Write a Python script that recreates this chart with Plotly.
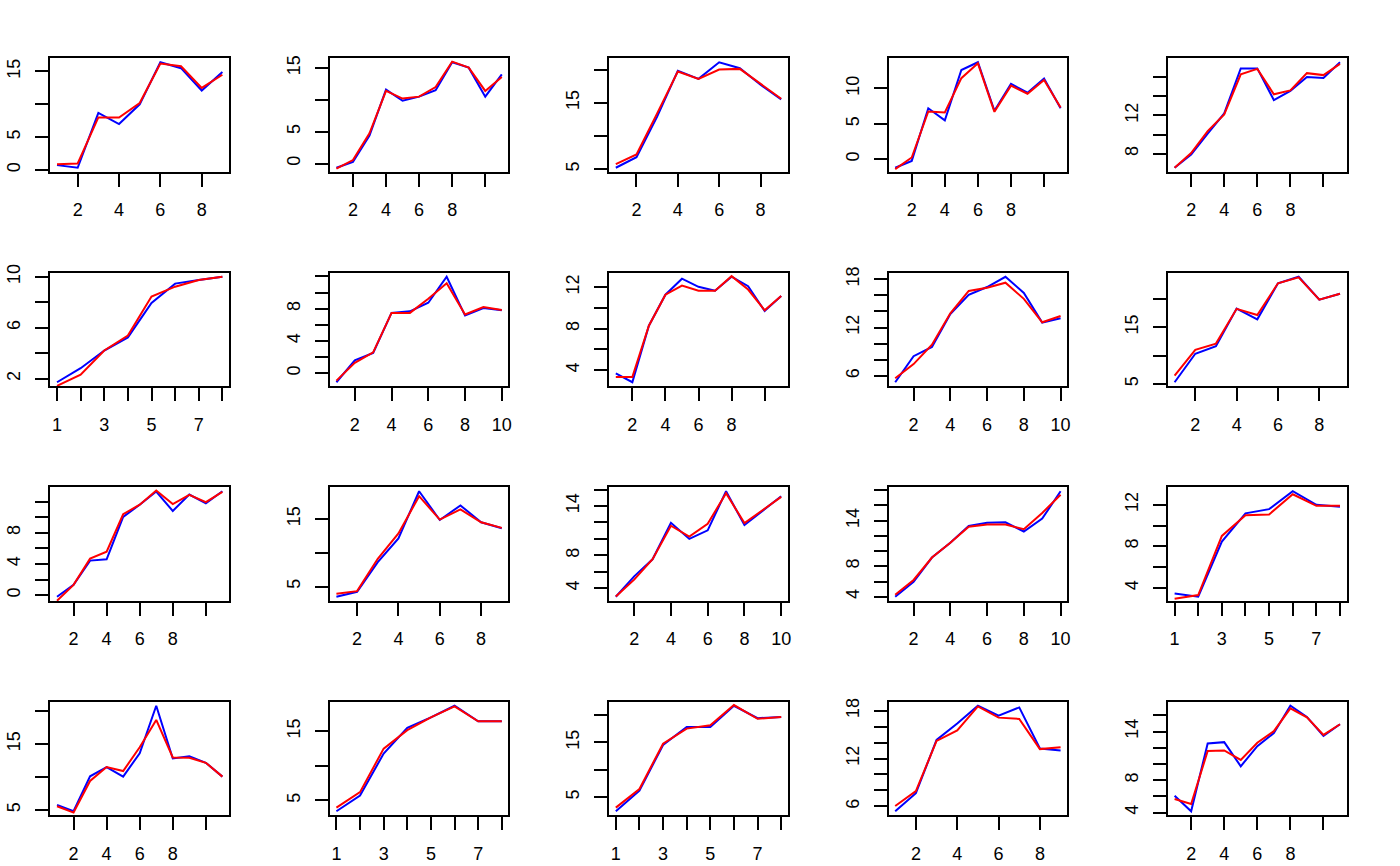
import plotly.graph_objects as go

# ---- data ----
p01_blue = [0.75, 0.35, 8.7, 7.0, 10.0, 16.4, 15.5, 12.1, 14.9]
p01_red = [0.9, 1.0, 8.0, 8.0, 10.2, 16.2, 15.8, 12.5, 14.5]
p02_blue = [-0.66, 0.25, 4.4, 11.6, 9.85, 10.5, 11.5, 15.9, 15.05, 10.5, 14.0]
p02_red = [-0.8, 0.55, 4.75, 11.4, 10.2, 10.5, 12.0, 16.0, 15.05, 11.4, 13.6]
p03_blue = [5.2, 6.8, 12.9, 19.8, 18.6, 21.1, 20.2, 17.7, 15.5]
p03_red = [5.75, 7.2, 13.4, 19.7, 18.6, 20.0, 20.1, 17.8, 15.6]
p04_blue = [-1.2, -0.23, 7.2, 5.5, 12.6, 13.7, 6.85, 10.65, 9.4, 11.4, 7.2]
p04_red = [-1.4, 0.25, 6.75, 6.6, 11.45, 13.55, 6.7, 10.4, 9.25, 11.2, 7.3]
p05_blue = [6.53, 7.9, 10.1, 12.2, 16.9, 16.9, 13.6, 14.56, 16.0, 15.9, 17.54]
p05_red = [6.53, 8.07, 10.36, 12.1, 16.27, 16.85, 14.2, 14.6, 16.4, 16.2, 17.37]

p06_blue = [1.72, 2.82, 4.21, 5.24, 7.94, 9.46, 9.74, 10.0]
p06_red = [1.43, 2.31, 4.21, 5.39, 8.45, 9.22, 9.74, 10.0]
p07_blue = [-1.14, 1.59, 2.49, 7.47, 7.67, 8.73, 11.96, 7.14, 8.08, 7.8]
p07_red = [-0.94, 1.27, 2.57, 7.47, 7.47, 9.22, 11.14, 7.27, 8.2, 7.84]
p08_blue = [3.69, 2.84, 8.29, 11.27, 12.81, 12.03, 11.65, 13.0, 12.09, 9.71, 11.15]
p08_red = [3.34, 3.34, 8.29, 11.27, 12.15, 11.65, 11.65, 13.06, 11.77, 9.77, 11.15]
p09_blue = [5.22, 8.45, 9.59, 13.67, 16.04, 17.02, 18.29, 16.29, 12.61, 13.14]
p09_red = [5.71, 7.47, 9.88, 13.76, 16.53, 16.94, 17.55, 15.55, 12.65, 13.43]
p10_blue = [5.29, 10.32, 11.65, 18.29, 16.39, 22.75, 23.9, 19.86, 20.9]
p10_red = [6.45, 11.01, 12.11, 18.24, 17.14, 22.75, 23.79, 19.86, 20.9]

p11_blue = [-0.21, 1.31, 4.43, 4.6, 10.04, 11.6, 13.29, 10.8, 12.91, 11.77, 13.33]
p11_red = [-0.72, 1.31, 4.68, 5.57, 10.38, 11.6, 13.42, 11.69, 12.87, 11.94, 13.25]
p12_blue = [3.49, 4.22, 8.61, 12.12, 19.1, 14.85, 17.0, 14.51, 13.63]
p12_red = [3.93, 4.32, 9.1, 12.85, 18.37, 14.9, 16.41, 14.51, 13.68]
p13_blue = [2.96, 5.44, 7.52, 11.96, 10.0, 11.04, 15.8, 11.68, 13.44, 15.2]
p13_red = [3.0, 5.04, 7.52, 11.6, 10.28, 11.84, 15.56, 11.92, 13.52, 15.12]
p14_blue = [4.0, 5.95, 9.15, 11.1, 13.31, 13.7, 13.78, 12.57, 14.26, 17.85]
p14_red = [4.26, 6.21, 9.15, 11.1, 13.18, 13.48, 13.48, 12.87, 15.0, 17.38]
p15_blue = [3.46, 3.14, 8.46, 11.17, 11.58, 13.3, 11.99, 11.8]
p15_red = [2.95, 3.3, 9.0, 11.0, 11.07, 13.01, 11.9, 11.9]

p16_blue = [5.75, 4.8, 10.1, 11.5, 10.05, 13.6, 20.8, 12.8, 13.15, 12.15, 10.05]
p16_red = [5.55, 4.6, 9.4, 11.5, 10.9, 14.5, 18.65, 12.95, 12.9, 12.15, 10.05]
p17_blue = [3.43, 5.71, 11.76, 15.48, 17.0, 18.67, 16.43, 16.43]
p17_red = [3.95, 6.19, 12.48, 15.14, 17.0, 18.57, 16.43, 16.43]
p18_blue = [2.44, 6.19, 14.52, 17.8, 17.8, 21.67, 19.4, 19.64]
p18_red = [3.1, 6.49, 14.76, 17.5, 18.1, 21.79, 19.29, 19.64]
p19_blue = [5.38, 7.65, 14.33, 16.39, 18.62, 17.38, 18.41, 13.26, 13.01]
p19_red = [6.04, 7.9, 14.21, 15.53, 18.54, 17.13, 16.97, 13.18, 13.42]
p20_blue = [6.08, 4.16, 12.53, 12.69, 9.71, 12.2, 13.8, 17.18, 15.8, 13.47, 14.9]
p20_red = [5.67, 5.06, 11.59, 11.67, 10.49, 12.61, 14.04, 16.86, 15.76, 13.59, 14.9]

# y-axis tick values and the labels that are shown
p01_yticks, p01_ylabels = [0, 5, 10, 15], ["0", "5", "", "15"]
p02_yticks, p02_ylabels = [0, 5, 10, 15], ["0", "5", "", "15"]
p03_yticks, p03_ylabels = [5, 10, 15, 20], ["5", "", "15", ""]
p04_yticks, p04_ylabels = [0, 5, 10], ["0", "5", "10"]
p05_yticks, p05_ylabels = [8, 10, 12, 14, 16], ["8", "", "12", "", ""]
p06_yticks, p06_ylabels = [2, 4, 6, 8, 10], ["2", "", "6", "", "10"]
p07_yticks, p07_ylabels = [0, 2, 4, 6, 8, 10, 12], ["0", "", "4", "", "8", "", ""]
p08_yticks, p08_ylabels = [4, 6, 8, 10, 12], ["4", "", "8", "", "12"]
p09_yticks, p09_ylabels = [6, 8, 10, 12, 14, 16, 18], ["6", "", "", "12", "", "", "18"]
p10_yticks, p10_ylabels = [5, 10, 15, 20], ["5", "", "15", ""]
p11_yticks, p11_ylabels = [0, 2, 4, 6, 8, 10, 12], ["0", "", "4", "", "8", "", ""]
p12_yticks, p12_ylabels = [5, 10, 15], ["5", "", "15"]
p13_yticks, p13_ylabels = [4, 6, 8, 10, 12, 14, 16], ["4", "", "8", "", "", "14", ""]
p14_yticks, p14_ylabels = [4, 6, 8, 10, 12, 14, 16, 18], ["4", "", "8", "", "", "14", "", ""]
p15_yticks, p15_ylabels = [4, 6, 8, 10, 12], ["4", "", "8", "", "12"]
p16_yticks, p16_ylabels = [5, 10, 15, 20], ["5", "", "15", ""]
p17_yticks, p17_ylabels = [5, 10, 15], ["5", "", "15"]
p18_yticks, p18_ylabels = [5, 10, 15, 20], ["5", "", "15", ""]
p19_yticks, p19_ylabels = [6, 8, 10, 12, 14, 16, 18], ["6", "", "", "12", "", "", "18"]
p20_yticks, p20_ylabels = [4, 6, 8, 10, 12, 14, 16], ["4", "", "8", "", "", "14", ""]

# x-axis ticks by series length
x_ticks_8, x_labels_8 = [1, 2, 3, 4, 5, 6, 7, 8], ["1", "", "3", "", "5", "", "7", ""]
x_ticks_9, x_labels_9 = [2, 4, 6, 8], ["2", "4", "6", "8"]
x_ticks_10, x_labels_10 = [2, 4, 6, 8, 10], ["2", "4", "6", "8", "10"]
x_ticks_11, x_labels_11 = [2, 4, 6, 8, 10], ["2", "4", "6", "8", ""]

panels = [
    (p01_blue, p01_red, p01_yticks, p01_ylabels), (p02_blue, p02_red, p02_yticks, p02_ylabels),
    (p03_blue, p03_red, p03_yticks, p03_ylabels), (p04_blue, p04_red, p04_yticks, p04_ylabels),
    (p05_blue, p05_red, p05_yticks, p05_ylabels), (p06_blue, p06_red, p06_yticks, p06_ylabels),
    (p07_blue, p07_red, p07_yticks, p07_ylabels), (p08_blue, p08_red, p08_yticks, p08_ylabels),
    (p09_blue, p09_red, p09_yticks, p09_ylabels), (p10_blue, p10_red, p10_yticks, p10_ylabels),
    (p11_blue, p11_red, p11_yticks, p11_ylabels), (p12_blue, p12_red, p12_yticks, p12_ylabels),
    (p13_blue, p13_red, p13_yticks, p13_ylabels), (p14_blue, p14_red, p14_yticks, p14_ylabels),
    (p15_blue, p15_red, p15_yticks, p15_ylabels), (p16_blue, p16_red, p16_yticks, p16_ylabels),
    (p17_blue, p17_red, p17_yticks, p17_ylabels), (p18_blue, p18_red, p18_yticks, p18_ylabels),
    (p19_blue, p19_red, p19_yticks, p19_ylabels), (p20_blue, p20_red, p20_yticks, p20_ylabels),
]
x_tick_sets = {8: (x_ticks_8, x_labels_8), 9: (x_ticks_9, x_labels_9),
               10: (x_ticks_10, x_labels_10), 11: (x_ticks_11, x_labels_11)}

# ---- layout ----
W, H = 1400, 866
COL_W, ROW_H = 280, 216.5
BOX_L, BOX_R = 50.5, 229.5
BOX_T, BOX_H = 50.5, 115
FONT = dict(family="Liberation Sans, Arial, Helvetica, sans-serif", size=18, color="black")

fig = go.Figure()
layout = {}
for i, (blue, red, yt, yl) in enumerate(panels):
    k = i + 1
    row, col = divmod(i, 5)
    n = len(blue)
    xs = list(range(1, n + 1))
    xa = "x" if k == 1 else f"x{k}"
    ya = "y" if k == 1 else f"y{k}"
    fig.add_trace(go.Scatter(x=xs, y=blue, mode="lines", line=dict(color="#0000FF", width=2),
                             xaxis=xa, yaxis=ya, showlegend=False, hoverinfo="skip"))
    fig.add_trace(go.Scatter(x=xs, y=red, mode="lines", line=dict(color="#FF0000", width=2),
                             xaxis=xa, yaxis=ya, showlegend=False, hoverinfo="skip"))
    lo, hi = min(blue), max(blue)
    pad = 0.04 * (hi - lo)
    xpad = 0.04 * (n - 1)
    x0 = (col * COL_W + BOX_L) / W
    x1 = (col * COL_W + BOX_R) / W
    top = BOX_T + row * ROW_H
    bot = top + BOX_H
    xt, xl = x_tick_sets[n]
    common = dict(showline=True, mirror=True, linecolor="black", linewidth=1.8,
                  ticks="outside", ticklen=13, tickwidth=1.8, tickcolor="black",
                  showgrid=False, zeroline=False, tickfont=FONT, fixedrange=True)
    layout["xaxis" if k == 1 else f"xaxis{k}"] = dict(
        domain=[x0, x1], range=[1 - xpad, n + xpad], anchor=ya,
        tickmode="array", tickvals=xt, ticktext=xl, ticklabelstandoff=8, **common)
    layout["yaxis" if k == 1 else f"yaxis{k}"] = dict(
        domain=[1 - bot / H, 1 - top / H], range=[lo - pad, hi + pad], anchor=xa,
        tickmode="array", tickvals=yt, ticktext=yl, tickangle=-90, ticklabelstandoff=8, **common)

fig.update_layout(**layout)
fig.update_layout(width=W, height=H, margin=dict(l=0, r=0, t=0, b=0),
                  paper_bgcolor="white", plot_bgcolor="white", font=FONT)
fig.write_html("out.html")
